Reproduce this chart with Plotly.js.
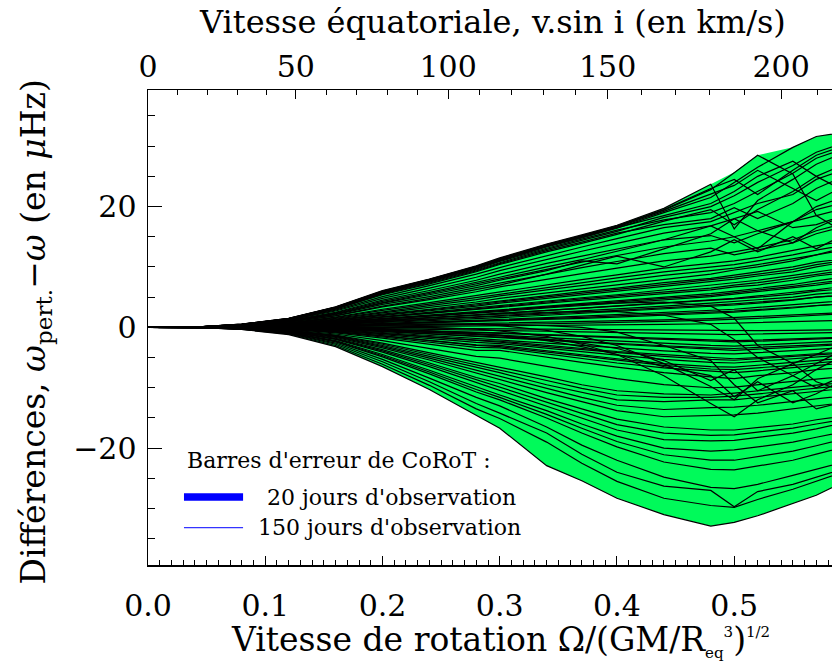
<!DOCTYPE html>
<html>
<head>
<meta charset="utf-8">
<script src="https://cdn.plot.ly/plotly-3.0.1.min.js"></script>
<style>
html,body{margin:0;padding:0;background:#fff;overflow:hidden;}
#chart{width:832px;height:663px;}
</style>
</head>
<body>
<div id="chart"></div>
<script>
// Rotation rate grid, Omega/(GM/R_eq^3)^1/2
const omega = [0, 0.04, 0.08, 0.12, 0.16, 0.2, 0.24, 0.28, 0.3, 0.34, 0.37, 0.4, 0.44, 0.48, 0.5, 0.52, 0.55, 0.57, 0.6];

// Envelope of the differences (green band), microHz
const upperEnv = [0, 0.05, 0.55, 1.5, 3.4, 6.1, 8.0, 10.2, 11.5, 13.8, 15.3, 16.9, 19.7, 23.7, 25.7, 28.5, 29.8, 31.6, 32.5];
const lowerEnv = [0, -0.02, -0.35, -1.2, -3.2, -6.5, -10.3, -14.6, -16.7, -22.9, -25.4, -28.3, -31.0, -32.9, -32.3, -31.2, -29.2, -27.8, -25.0];

// Individual mode differences (black curves)
const u1 = [0, 0.05, 0.55, 1.5, 3.4, 6.1, 8.0, 10.2, 11.5, 13.8, 15.3, 16.9, 19.7, 23.7, 16.3, 21.0, 24.5, 27.0, 29.5];
const u2 = [0, 0.05, 0.5, 1.45, 3.3, 5.9, 7.9, 10.0, 11.3, 13.6, 15.1, 16.7, 19.4, 22.8, 25.6, 28.5, 25.4, 18.5, 15.0];
const u3 = [0, 0.05, 0.5, 1.4, 3.2, 5.8, 7.7, 9.8, 11.0, 13.3, 14.8, 16.4, 19.0, 21.5, 24.0, 26.5, 29.8, 31.6, 32.5];
const u4 = [0, 0.04, 0.48, 1.35, 3.1, 5.6, 7.5, 9.5, 10.7, 12.9, 14.4, 15.9, 18.2, 20.0, 21.8, 24.0, 26.8, 29.0, 31.0];
const u5 = [0, 0.04, 0.46, 1.3, 3.0, 5.4, 7.2, 9.2, 10.4, 12.5, 13.9, 15.4, 17.6, 19.5, 17.0, 19.5, 22.5, 25.0, 27.5];
const u6 = [0, 0.04, 0.44, 1.25, 2.85, 5.1, 6.9, 8.8, 9.9, 11.9, 13.3, 14.7, 16.5, 17.5, 19.0, 20.5, 22.0, 24.5, 26.5];
const u7 = [0, 0.04, 0.42, 1.2, 2.7, 4.8, 6.5, 8.3, 9.4, 11.3, 12.6, 13.9, 15.6, 16.8, 18.0, 19.2, 16.5, 17.0, 19.0];
const u8 = [0, 0.03, 0.4, 1.1, 2.5, 4.5, 6.1, 7.8, 8.8, 10.6, 11.8, 13.0, 14.5, 15.2, 14.0, 15.5, 17.5, 20.0, 22.0];
const u9 = [0, 0.03, 0.37, 1.0, 2.3, 4.1, 5.6, 7.2, 8.1, 9.7, 10.8, 11.9, 13.3, 14.3, 15.0, 16.0, 17.5, 19.5, 21.0];
const u10 = [0, 0.03, 0.34, 0.95, 2.1, 3.8, 5.1, 6.6, 7.4, 8.9, 9.9, 10.9, 12.2, 13.1, 12.0, 12.8, 14.0, 15.5, 17.0];
const u11 = [0, 0.03, 0.3, 0.85, 1.9, 3.4, 4.6, 5.9, 6.7, 8.0, 8.9, 9.8, 11.0, 11.8, 12.5, 13.2, 14.5, 16.0, 17.5];
const u12 = [0, 0.02, 0.27, 0.75, 1.7, 3.0, 4.1, 5.3, 5.9, 7.1, 7.9, 8.7, 9.8, 10.6, 11.0, 11.6, 12.8, 13.5, 14.5];
const u13 = [0, 0.02, 0.24, 0.65, 1.5, 2.6, 3.6, 4.6, 5.2, 6.2, 6.9, 7.6, 8.6, 9.4, 9.8, 10.4, 11.3, 12.0, 13.0];
const u14 = [0, 0.02, 0.2, 0.55, 1.25, 2.2, 3.0, 3.9, 4.4, 5.3, 5.9, 6.5, 7.4, 8.1, 8.6, 9.2, 10.0, 10.8, 11.5];
const u15 = [0, 0.02, 0.17, 0.45, 1.05, 1.8, 2.5, 3.2, 3.6, 4.4, 4.9, 5.4, 6.2, 6.9, 7.3, 7.8, 8.6, 9.2, 10.0];
const u16 = [0, 0.01, 0.14, 0.38, 0.85, 1.5, 2.0, 2.6, 2.9, 3.5, 3.9, 4.4, 5.0, 5.6, 6.0, 6.4, 7.1, 7.7, 8.5];
const u17 = [0, 0.01, 0.1, 0.3, 0.65, 1.15, 1.55, 2.0, 2.3, 2.8, 3.1, 3.5, 4.0, 4.5, 4.8, 5.2, 5.8, 6.2, 7.0];
const u18 = [0, 0.01, 0.07, 0.2, 0.45, 0.8, 1.1, 1.4, 1.6, 2.0, 2.3, 2.6, 3.0, 3.4, 3.7, 4.0, 4.5, 5.0, 5.5];
const u19 = [0, 0.0, 0.04, 0.12, 0.28, 0.5, 0.7, 0.9, 1.0, 1.3, 1.5, 1.7, 2.0, 2.3, 2.5, 2.8, 3.2, 3.6, 4.0];
const u20 = [0, 0, 0.02, 0.05, 0.12, 0.22, 0.3, 0.4, 0.45, 0.6, 0.7, 0.8, 1.0, 1.2, 1.3, 1.5, 1.8, 2.0, 2.3];

const t1 = [0, 0.05, 0.53, 1.48, 3.35, 6.0, 7.95, 10.1, 11.4, 13.7, 15.2, 16.8, 19.5, 23.0, 24.5, 22.0, 26.0, 28.5, 30.5];
const t2 = [0, 0.05, 0.52, 1.45, 3.3, 5.95, 7.85, 9.95, 11.2, 13.5, 15.0, 16.6, 19.2, 22.0, 23.5, 26.0, 23.0, 21.0, 24.0];
const t3 = [0, 0.05, 0.5, 1.42, 3.25, 5.85, 7.75, 9.85, 11.1, 13.4, 14.9, 16.5, 18.5, 20.5, 22.5, 25.0, 27.5, 25.0, 22.0];
const t4 = [0, 0.04, 0.49, 1.38, 3.15, 5.7, 7.6, 9.65, 10.9, 13.1, 14.6, 16.1, 17.8, 19.0, 20.5, 22.5, 25.5, 28.0, 30.0];
const t5 = [0, 0.04, 0.47, 1.32, 3.05, 5.5, 7.35, 9.35, 10.55, 12.7, 14.1, 15.6, 17.0, 18.0, 19.8, 18.0, 20.5, 23.0, 25.5];

const n1 = [0, 0.02, 0.22, 0.6, 1.35, 2.4, 3.3, 4.2, 4.8, 5.7, 6.4, 7.0, 8.0, 8.8, 9.5, 10.0, 11.0, 12.0, 13.5];
const n2 = [0, 0.01, 0.18, 0.5, 1.15, 2.0, 2.75, 3.5, 4.0, 4.8, 5.4, 6.0, 6.8, 7.5, 8.0, 8.5, 9.2, 10.0, 11.0];
const n3 = [0, 0.01, 0.15, 0.42, 0.95, 1.7, 2.3, 2.9, 3.3, 4.0, 4.5, 5.0, 5.6, 6.2, 6.7, 7.0, 7.8, 8.5, 9.2];
const n4 = [0, 0.01, 0.12, 0.34, 0.75, 1.35, 1.8, 2.3, 2.6, 3.2, 3.6, 4.0, 4.6, 5.1, 5.5, 5.9, 6.5, 7.0, 7.8];
const n5 = [0, 0.01, 0.09, 0.26, 0.55, 1.0, 1.35, 1.75, 1.95, 2.4, 2.7, 3.0, 3.5, 4.0, 4.3, 4.6, 5.0, 5.5, 6.0];
const n6 = [0, 0, 0.05, 0.16, 0.36, 0.65, 0.9, 1.15, 1.3, 1.6, 1.85, 2.1, 2.5, 2.8, 3.0, 3.3, 3.7, 4.0, 4.5];
const n7 = [0, 0, 0.01, 0.02, 0.05, 0.1, 0.15, 0.2, 0.22, 0.3, 0.35, 0.4, 0.5, 0.6, 0.7, 0.8, 0.9, 1.0, 1.2];
const n8 = [0, 0, -0.01, -0.04, -0.1, -0.2, -0.3, -0.45, -0.5, -0.65, -0.75, -0.85, -1.0, -1.15, -1.2, -1.1, -1.0, -0.9, -0.8];
const n9 = [0, 0, -0.03, -0.11, -0.28, -0.55, -0.85, -1.2, -1.3, -1.7, -2.0, -2.3, -2.6, -3.0, -3.1, -2.9, -2.7, -2.5, -2.2];
const n10 = [0, 0, -0.05, -0.17, -0.42, -0.85, -1.35, -1.8, -2.0, -2.6, -3.0, -3.4, -3.9, -4.3, -4.4, -4.2, -3.9, -3.6, -3.3];
const n11 = [0, 0, -0.07, -0.24, -0.6, -1.2, -1.9, -2.5, -2.7, -3.5, -4.0, -4.6, -5.3, -5.8, -5.9, -5.6, -5.2, -4.9, -4.5];
const n12 = [0, -0.01, -0.09, -0.31, -0.8, -1.6, -2.5, -3.3, -3.4, -4.4, -5.1, -5.9, -6.7, -7.3, -7.5, -7.2, -6.7, -6.3, -5.8];

const m1 = [0, 0.02, 0.25, 0.7, 1.6, 2.8, 3.85, 4.95, 5.55, 6.65, 7.4, 8.2, 9.2, 10.0, 10.4, 11.0, 12.0, 12.8, 13.8];
const m2 = [0, 0.02, 0.19, 0.52, 1.2, 2.1, 2.9, 3.7, 4.2, 5.05, 5.65, 6.25, 7.1, 7.8, 8.3, 8.8, 9.6, 10.4, 11.2];
const m3 = [0, 0.01, 0.16, 0.44, 1.0, 1.75, 2.4, 3.05, 3.45, 4.2, 4.7, 5.2, 5.9, 6.5, 7.0, 7.4, 8.2, 8.8, 9.6];
const m4 = [0, 0.01, 0.13, 0.36, 0.8, 1.42, 1.9, 2.45, 2.75, 3.35, 3.75, 4.2, 4.8, 5.3, 5.7, 6.1, 6.8, 7.3, 8.0];
const m5 = [0, 0.01, 0.11, 0.3, 0.65, 1.15, 1.6, 2.05, 2.3, 2.8, 3.15, 3.5, 4.0, 4.4, 4.7, 5.0, 5.5, 6.0, 6.5];
const m6 = [0, 0.01, 0.08, 0.23, 0.5, 0.9, 1.25, 1.6, 1.8, 2.2, 2.5, 2.8, 3.2, 3.6, 3.9, 4.2, 4.6, 5.0, 5.4];
const m7 = [0, 0, 0.06, 0.15, 0.33, 0.6, 0.82, 1.05, 1.18, 1.45, 1.65, 1.9, 2.2, 2.5, 2.7, 2.95, 3.3, 3.6, 4.0];
const m8 = [0, 0, 0.03, 0.08, 0.18, 0.32, 0.45, 0.58, 0.65, 0.8, 0.92, 1.05, 1.25, 1.45, 1.6, 1.75, 2.0, 2.2, 2.5];
const m9 = [0, 0, -0.005, -0.02, -0.05, -0.1, -0.15, -0.22, -0.25, -0.32, -0.38, -0.42, -0.5, -0.55, -0.6, -0.55, -0.5, -0.45, -0.4];
const m10 = [0, 0, -0.02, -0.07, -0.18, -0.38, -0.58, -0.82, -0.9, -1.2, -1.4, -1.6, -1.85, -2.1, -2.2, -2.1, -1.95, -1.8, -1.6];
const m11 = [0, 0, -0.04, -0.13, -0.32, -0.65, -1.0, -1.4, -1.55, -2.0, -2.35, -2.7, -3.05, -3.4, -3.5, -3.3, -3.1, -2.9, -2.6];
const m12 = [0, 0, -0.06, -0.2, -0.52, -1.05, -1.6, -2.2, -2.45, -3.2, -3.7, -4.2, -4.8, -5.3, -5.45, -5.2, -4.8, -4.5, -4.2];
const m13 = [0, -0.01, -0.08, -0.28, -0.7, -1.4, -2.2, -3.0, -3.2, -4.1, -4.8, -5.5, -6.3, -6.9, -7.0, -6.7, -6.3, -5.9, -5.4];

const d1 = [0, -0.02, -0.35, -1.2, -3.2, -6.5, -10.3, -14.6, -16.7, -22.9, -25.4, -28.3, -31.0, -32.9, -32.3, -31.2, -29.2, -27.8, -25.0];
const d2 = [0, -0.02, -0.33, -1.1, -3.0, -6.1, -9.6, -13.5, -15.1, -19.0, -22.5, -25.5, -28.3, -29.5, -29.8, -28.5, -26.8, -25.5, -23.5];
const d3 = [0, -0.02, -0.3, -1.0, -2.8, -5.7, -9.0, -12.6, -14.2, -17.5, -21.0, -24.0, -26.3, -27.0, -29.7, -27.2, -26.0, -24.8, -23.0];
const d4 = [0, -0.02, -0.28, -0.95, -2.6, -5.3, -8.4, -11.6, -13.0, -16.5, -19.5, -22.0, -24.8, -26.5, -26.7, -26.0, -24.5, -23.5, -22.0];
const d5 = [0, -0.02, -0.26, -0.9, -2.4, -4.9, -7.7, -10.7, -12.0, -15.0, -17.5, -19.8, -22.3, -23.5, -23.6, -23.0, -22.0, -21.0, -19.5];
const d6 = [0, -0.02, -0.24, -0.82, -2.2, -4.5, -7.1, -9.9, -11.2, -13.8, -16.0, -18.0, -20.0, -20.5, -20.3, -19.8, -19.0, -18.2, -17.0];
const d7 = [0, -0.01, -0.22, -0.75, -2.0, -4.1, -6.5, -9.1, -10.4, -13.0, -15.0, -17.0, -18.6, -18.8, -18.7, -18.2, -17.5, -16.8, -15.5];
const d8 = [0, -0.01, -0.2, -0.68, -1.8, -3.7, -5.9, -8.3, -9.3, -11.8, -13.5, -15.2, -16.5, -17.0, -17.0, -16.6, -16.0, -15.3, -14.5];
const d9 = [0, -0.01, -0.18, -0.62, -1.65, -3.4, -5.4, -7.6, -8.7, -10.8, -12.3, -13.8, -14.8, -14.6, -14.5, -14.2, -13.5, -13.0, -12.3];
const d10 = [0, -0.01, -0.16, -0.55, -1.45, -3.0, -4.8, -6.6, -7.5, -9.5, -10.8, -12.0, -12.3, -12.0, -12.0, -11.6, -11.0, -10.5, -10.0];
const d11 = [0, -0.01, -0.14, -0.48, -1.3, -2.6, -4.2, -5.8, -6.5, -8.2, -9.5, -10.5, -11.0, -11.2, -10.9, -10.5, -10.0, -9.6, -9.0];
const d12 = [0, -0.01, -0.12, -0.42, -1.1, -2.2, -3.5, -4.8, -5.1, -6.5, -7.5, -8.5, -9.5, -10.0, -9.9, -9.5, -9.0, -8.5, -8.0];
const d13 = [0, -0.01, -0.1, -0.35, -0.9, -1.8, -2.8, -3.8, -3.8, -5.0, -5.8, -6.6, -7.5, -8.2, -8.5, -8.0, -7.5, -7.0, -6.5];
const d14 = [0, 0, -0.08, -0.28, -0.7, -1.4, -2.2, -2.9, -3.0, -3.9, -4.5, -5.2, -6.0, -6.5, -6.6, -6.3, -5.8, -5.5, -5.0];
const d15 = [0, 0, -0.06, -0.2, -0.5, -1.0, -1.6, -2.1, -2.3, -3.0, -3.5, -4.0, -4.5, -5.0, -5.2, -5.0, -4.6, -4.3, -4.0];
const d16 = [0, 0, -0.04, -0.14, -0.35, -0.7, -1.1, -1.5, -1.6, -2.1, -2.4, -2.8, -3.2, -3.6, -3.8, -3.6, -3.3, -3.0, -2.8];
const d17 = [0, 0, -0.02, -0.08, -0.2, -0.4, -0.6, -0.9, -1.0, -1.3, -1.5, -1.7, -2.0, -2.3, -2.4, -2.3, -2.1, -1.9, -1.7];

const l1 = [0, -0.01, -0.17, -0.58, -1.55, -3.2, -5.1, -7.1, -8.1, -10.2, -11.6, -12.9, -13.6, -13.3, -13.2, -12.9, -12.3, -11.8, -11.2];
const l2 = [0, -0.01, -0.15, -0.52, -1.38, -2.8, -4.5, -6.2, -7.0, -8.8, -10.1, -11.2, -11.6, -11.6, -11.4, -11.0, -10.5, -10.1, -9.5];
const l3 = [0, -0.02, -0.21, -0.72, -1.9, -3.9, -6.2, -8.7, -9.85, -12.4, -14.2, -16.1, -17.5, -17.9, -17.8, -17.4, -16.7, -16.0, -15.0];
const l4 = [0, -0.02, -0.25, -0.86, -2.3, -4.7, -7.4, -10.3, -11.6, -14.4, -16.7, -18.9, -21.1, -22.0, -22.0, -21.4, -20.5, -19.6, -18.2];

const z1 = [0, 0.01, 0.05, 0.15, 0.3, 0.5, 0.6, 0.5, 0.3, -0.5, -1.5, -3.0, -6.0, -9.8, -12.0, -8.5, -6.0, -4.5, -2.0];
const z2 = [0, 0, 0.02, 0.05, 0.1, 0.1, 0, -0.3, -0.6, -1.5, -2.8, -4.5, -8.0, -12.6, -14.8, -12.0, -9.5, -7.0, -4.0];
const z3 = [0, 0, -0.02, -0.05, -0.15, -0.3, -0.6, -1.0, -1.3, -2.2, -3.2, -4.5, -6.5, -8.0, -11.5, -9.0, -12.5, -11.0, -8.0];
const z4 = [0, 0.01, 0.08, 0.25, 0.6, 1.1, 1.6, 2.0, 2.2, 2.5, 2.6, 2.6, 2.0, 0.5, -2.0, -5.0, -8.0, -6.0, -3.0];
const z5 = [0, 0.01, 0.1, 0.3, 0.7, 1.3, 1.9, 2.5, 2.8, 3.4, 3.8, 4.0, 4.2, 3.5, 1.5, -3.0, -6.0, -9.0, -11.0];
const z6 = [0, 0.03, 0.38, 1.05, 2.4, 4.3, 5.8, 7.4, 8.3, 10.0, 11.2, 12.6, 14.5, 16.8, 15.0, 13.0, 17.5, 18.5, 20.0];
const z7 = [0, 0.03, 0.35, 0.98, 2.2, 4.0, 5.4, 6.9, 7.8, 9.4, 11.0, 10.5, 13.0, 15.5, 18.0, 16.0, 14.0, 16.5, 19.0];
const z8 = [0, 0.02, 0.3, 0.85, 1.95, 3.5, 4.8, 6.2, 7.0, 8.8, 10.3, 11.8, 10.0, 12.5, 14.5, 12.5, 15.0, 13.0, 16.0];
const z9 = [0, 0, -0.03, -0.1, -0.25, -0.5, -0.8, -1.2, -1.4, -2.0, -2.6, -3.5, -5.5, -8.8, -7.0, -10.5, -8.0, -10.0, -7.5];
const z10 = [0, 0.01, 0.04, 0.1, 0.2, 0.35, 0.45, 0.5, 0.5, 0.3, 0, -0.8, -3.0, -5.5, -9.5, -12.5, -10.5, -13.5, -12.0];

const curves = [u1,u2,u3,u4,u5,u6,u7,u8,u9,u10,u11,u12,u13,u14,u15,u16,u17,u18,u19,u20,
                t1,t2,t3,t4,t5,
                n1,n2,n3,n4,n5,n6,n7,n8,n9,n10,n11,n12,
                m1,m2,m3,m4,m5,m6,m7,m8,m9,m10,m11,m12,m13,
                d1,d2,d3,d4,d5,d6,d7,d8,d9,d10,d11,d12,d13,d14,d15,d16,d17,
                l1,l2,l3,l4,
                z1,z2,z3,z4,z5,z6,z7,z8,z9,z10];

// Top axis: equatorial velocity v.sin i (km/s) and its position in Omega
const vsiniLabels = ['0', '50', '100', '150', '200'];
const vsiniOmega = [0, 0.126, 0.256, 0.392, 0.540];
const vsiniMinorOmega = [0.0253, 0.0505, 0.0761, 0.1013, 0.1519, 0.1781, 0.2042, 0.2301, 0.2831, 0.3101, 0.3371, 0.3647, 0.4210, 0.4500, 0.4787, 0.5085, 0.5708];

const GREEN = '#00fa5a';
const SERIF = 'DejaVu Serif, serif';

const traces = [];
traces.push({x: omega, y: lowerEnv, mode: 'lines', line: {width: 0, color: GREEN}, hoverinfo: 'skip', showlegend: false});
traces.push({x: omega, y: upperEnv, mode: 'lines', fill: 'tonexty', fillcolor: GREEN, line: {width: 0, color: GREEN}, hoverinfo: 'skip', showlegend: false});
curves.forEach(c => traces.push({x: omega, y: c, mode: 'lines', line: {color: 'black', width: 1.2}, showlegend: false}));
traces.push({x: [omega[0]], y: [upperEnv[0]], xaxis: 'x2', mode: 'markers', marker: {opacity: 0}, hoverinfo: 'skip', showlegend: false});

const XR = [0, 0.5834];
const tickFont = {family: SERIF, size: 30, color: 'black'};
const small = s => '<span style="font-size:15px">' + s + '</span>';

const layout = {
  width: 832, height: 663,
  margin: {l: 148, r: 0, t: 90, b: 98},
  paper_bgcolor: 'white', plot_bgcolor: 'white',
  showlegend: false,
  xaxis: {
    range: XR, showgrid: false, zeroline: false,
    showline: true, linecolor: 'black', linewidth: 1.5,
    ticks: 'inside', ticklen: 9, tickwidth: 1, tickcolor: 'black',
    dtick: 0.1, tick0: 0, tickformat: '.1f',
    minor: {dtick: 0.01, ticks: 'inside', ticklen: 5, tickcolor: 'black', tickwidth: 1},
    tickfont: tickFont, ticklabelstandoff: 13
  },
  xaxis2: {
    overlaying: 'x', side: 'top', range: XR, showgrid: false, zeroline: false,
    showline: true, linecolor: 'black', linewidth: 1.5,
    tickmode: 'array', tickvals: vsiniOmega, ticktext: vsiniLabels,
    ticks: 'inside', ticklen: 9, tickwidth: 1, tickcolor: 'black',
    minor: {tickmode: 'array', tickvals: vsiniMinorOmega, ticks: 'inside', ticklen: 5, tickcolor: 'black', tickwidth: 1},
    tickfont: tickFont, ticklabelstandoff: 0
  },
  yaxis: {
    range: [-39.35, 39.3], showgrid: false, zeroline: false,
    showline: true, linecolor: 'black', linewidth: 1.5,
    ticks: 'inside', ticklen: 14, tickwidth: 1, tickcolor: 'black',
    dtick: 20, tick0: 0,
    minor: {dtick: 5, ticks: 'inside', ticklen: 7, tickcolor: 'black', tickwidth: 1},
    tickfont: tickFont, ticklabelstandoff: 4
  },
  shapes: [
    {type: 'line', xref: 'paper', yref: 'paper', x0: 0.0526, x1: 0.139, y0: 0.1432, y1: 0.1432, line: {color: '#0000ff', width: 7.5}},
    {type: 'line', xref: 'paper', yref: 'paper', x0: 0.0526, x1: 0.139, y0: 0.0785, y1: 0.0785, line: {color: '#0000ff', width: 1}}
  ],
  annotations: [
    {text: 'Vitesse équatoriale, v.sin i (en km/s)', xref: 'paper', yref: 'paper', x: 0.503, y: 1.143, xanchor: 'center', yanchor: 'middle', showarrow: false, font: {family: SERIF, size: 32, color: 'black'}},
    {text: 'Vitesse de rotation Ω/(GM/R<sub>' + small('eq') + '</sub><sup>' + small('3') + '</sup>)<sup>' + small('1/2') + '</sup>', xref: 'paper', yref: 'paper', x: 0.515, y: -0.16, xanchor: 'center', yanchor: 'middle', showarrow: false, font: {family: SERIF, size: 33, color: 'black'}},
    {text: 'Différences, <i>ω</i><sub>pert.</sub>−<i>ω</i> (en <i>μ</i>Hz)', xref: 'paper', yref: 'paper', x: -0.165, y: 0.49, xanchor: 'center', yanchor: 'middle', textangle: -90, showarrow: false, font: {family: SERIF, size: 33, color: 'black'}},
    {text: "Barres d'erreur de CoRoT :", xref: 'paper', yref: 'paper', x: 0.0541, y: 0.221, xanchor: 'left', yanchor: 'middle', showarrow: false, font: {family: SERIF, size: 22, color: 'black'}},
    {text: "20 jours d'observation", xref: 'paper', yref: 'paper', x: 0.171, y: 0.143, xanchor: 'left', yanchor: 'middle', showarrow: false, font: {family: SERIF, size: 22, color: 'black'}},
    {text: "150 jours d'observation", xref: 'paper', yref: 'paper', x: 0.158, y: 0.08, xanchor: 'left', yanchor: 'middle', showarrow: false, font: {family: SERIF, size: 22, color: 'black'}}
  ]
};

Plotly.newPlot('chart', traces, layout, {staticPlot: true, displayModeBar: false});
</script>
</body>
</html>
